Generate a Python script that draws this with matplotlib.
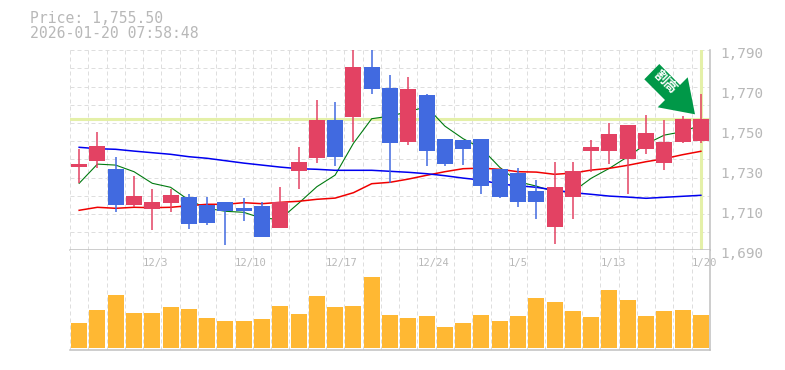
import numpy as np
import matplotlib
matplotlib.use("Agg")
import matplotlib.pyplot as plt
from matplotlib.patches import Polygon

# --- candle data ---
opens = [1731.6, 1734.6, 1730.6, 1712.6, 1710.6, 1713.6, 1716.6, 1712.6, 1714.1, 1711.1, 1712.1, 1701.1,
         1729.6, 1736.1, 1755.1, 1756.6, 1781.6, 1771.1, 1744.1, 1767.6, 1745.6, 1745.1, 1745.6, 1730.6,
         1728.6, 1719.6, 1701.6, 1716.6, 1739.6, 1739.6, 1735.6, 1740.6, 1733.6, 1744.1, 1744.6]
closes = [1733.1, 1742.1, 1712.6, 1717.1, 1714.1, 1717.6, 1703.1, 1703.6, 1709.6, 1709.6, 1696.6, 1714.1,
          1734.1, 1755.1, 1736.6, 1781.6, 1770.6, 1743.6, 1770.6, 1739.6, 1733.1, 1740.6, 1722.1, 1716.6,
          1714.1, 1714.1, 1721.6, 1729.6, 1741.6, 1748.1, 1752.6, 1748.6, 1744.1, 1755.6, 1755.6]
highs = [1740.6, 1749.1, 1736.6, 1727.1, 1720.6, 1720.6, 1718.1, 1716.6, 1714.1, 1716.1, 1714.1, 1721.6,
         1741.6, 1765.1, 1764.1, 1790.0, 1790.0, 1777.6, 1776.6, 1768.1, 1745.6, 1745.1, 1745.6, 1730.6,
         1731.1, 1725.1, 1734.1, 1734.1, 1745.1, 1753.6, 1752.6, 1757.6, 1755.1, 1757.3, 1768.1]
lows = [1723.8, 1731.1, 1709.1, 1711.6, 1700.1, 1709.1, 1700.6, 1702.6, 1692.6, 1704.6, 1696.6, 1701.1,
        1720.6, 1733.6, 1732.1, 1744.1, 1768.1, 1723.6, 1742.6, 1732.1, 1732.1, 1732.6, 1718.1, 1716.1,
        1711.6, 1705.6, 1693.1, 1705.6, 1729.1, 1733.1, 1718.1, 1738.1, 1730.1, 1743.6, 1743.6]

ma_blue = [1741.5, 1740.8, 1740.5, 1739.6, 1738.8, 1738.0, 1736.8, 1736.0, 1734.8, 1733.6, 1732.6, 1731.6,
           1730.8, 1730.5, 1730.0, 1730.0, 1730.0, 1729.5, 1729.0, 1728.3, 1727.3, 1726.1, 1725.1, 1723.1,
           1722.3, 1721.5, 1720.1, 1718.8, 1718.0, 1717.1, 1716.6, 1716.0, 1716.5, 1717.0, 1717.5]
ma_red = [1710.0, 1711.5, 1711.0, 1711.5, 1711.3, 1711.5, 1712.3, 1713.0, 1713.0, 1713.8, 1713.3, 1714.0,
          1714.5, 1715.5, 1716.1, 1718.8, 1723.3, 1724.0, 1725.6, 1727.5, 1729.3, 1730.8, 1731.1, 1730.5,
          1729.3, 1729.1, 1728.0, 1728.6, 1730.1, 1731.0, 1732.5, 1734.3, 1735.8, 1737.8, 1739.5]
ma_green = [1723.5, 1733.1, 1732.6, 1729.3, 1723.5, 1721.5, 1715.1, 1711.0, 1709.5, 1709.0, 1706.0, 1705.6,
            1713.5, 1721.8, 1727.6, 1743.5, 1755.8, 1757.1, 1759.3, 1761.8, 1752.1, 1745.8, 1741.0, 1731.5,
            1724.3, 1722.1, 1719.3, 1719.3, 1726.0, 1731.0, 1736.8, 1743.1, 1747.6, 1749.3, 1752.6]

volumes = [25, 38, 53, 35, 35, 41, 39, 30, 27, 27, 29, 42, 34, 52, 41, 42, 71, 33,
           30, 32, 21, 25, 33, 27, 32, 50, 46, 37, 31, 58, 48, 32, 37, 38, 33]

date_idx = [4, 9, 14, 19, 24, 29, 34]
date_labels = ["12/3", "12/10", "12/17", "12/24", "1/5", "1/13", "1/20"]
price_ticks = [1690, 1710, 1730, 1750, 1770, 1790]
price_labels = ["1,690", "1,710", "1,730", "1,750", "1,770", "1,790"]

current_price = 1755.5
title_lines = "Price: 1,755.50\n2026-01-20 07:58:48"
badge_text = "割高"

# --- style ---
W, H = 785, 370
GREY = "#b8b8b8"
GRID = "#dedede"
UP = "#e34263"
DOWN = "#416ae0"
NOW = "#e4f0a8"
VOL = "#ffb833"
MONO = "DejaVu Sans Mono"

fig = plt.figure(figsize=(W / 100, H / 100), dpi=100, facecolor="white")
ax = fig.add_axes([70 / W, 1 - 250.3 / H, 640 / W, 200 / H])
vax = fig.add_axes([70 / W, 1 - 350 / H, 640 / W, 99.7 / H], sharex=ax)

x = np.arange(len(opens))
ax.set_xlim(-0.5, len(opens) - 0.5)
ax.set_ylim(1690, 1790)
vax.set_ylim(-2, 97.7)

for a in (ax, vax):
    a.set_xticks(np.arange(len(opens) + 1) - 0.5)
    a.tick_params(length=0, labelbottom=False, labelleft=False)
    a.grid(True, axis="x", color=GRID, ls=(0, (4, 3)), lw=0.72)
    a.set_axisbelow(True)
    for s in a.spines.values():
        s.set_visible(False)
    a.spines["bottom"].set_visible(True)
    a.spines["right"].set_visible(True)
    a.spines["bottom"].set_color("#c0c0c0")
    a.spines["right"].set_color("#c0c0c0")
    a.spines["bottom"].set_linewidth(1.1)
    a.spines["right"].set_linewidth(1.1)

ax.set_yticks(np.linspace(1690, 1790, 12))
ax.grid(True, axis="y", color=GRID, ls=(0, (4, 3)), lw=0.72)

# current price cross
ax.axhline(current_price, color=NOW, lw=2.2, zorder=1.5)
ax.axvline(x[-1], ymin=0.005, color=NOW, lw=2.2, zorder=1.5)

# candles
for i in x:
    c = UP if closes[i] >= opens[i] else DOWN
    ax.vlines(i, lows[i], highs[i], color=c, lw=1.1, zorder=3)
    ax.bar(i, abs(closes[i] - opens[i]), bottom=min(opens[i], closes[i]), width=0.875, color=c, zorder=3)

# moving averages sit under the candles except where the gaps show them
ax.plot(x, ma_green, color="#007a10", lw=0.8, zorder=2)
ax.plot(x, ma_red, color="#f00000", lw=1.1, zorder=2)
ax.plot(x, ma_blue, color="#0000f0", lw=1.1, zorder=2)

# volume
vax.bar(x, volumes, width=0.875, color=VOL, zorder=3)

for i, lab in zip(date_idx, date_labels):
    vax.annotate(lab, (i - 0.5, 1), xycoords=("data", "axes fraction"), xytext=(0, -9), textcoords="offset points",
                 ha="left", va="center", family=MONO, fontsize=7.6, color=GREY, zorder=4)

for p, lab in zip(price_ticks, price_labels):
    ax.annotate(lab, (1, p), xycoords=("axes fraction", "data"), xytext=(7.2, -2.6), textcoords="offset points",
                ha="left", va="center", family=MONO, fontsize=10.4, color=GREY, annotation_clip=False)

fig.text(30 / W, 1 - 11 / H, title_lines, family=MONO, fontsize=10.6, color=GREY, va="top", ha="left", linespacing=1.0)

# signal arrow, pixel outline measured from the top left of the figure
arrow_px = [(659.3, 64), (644.3, 79.3), (665, 100), (657.7, 107.3), (695, 114.3), (687.7, 77.3), (680, 85)]
arrow_pts = [(px / W, 1 - py / H) for px, py in arrow_px]
fig.add_artist(Polygon(arrow_pts, closed=True, transform=fig.transFigure, facecolor="#009848", edgecolor="none", zorder=5))
fig.text(666 / W, 1 - 82 / H, badge_text, family=["Noto Sans CJK JP", "DejaVu Sans"], fontsize=9.6, weight="bold",
         color="white", rotation=-45, rotation_mode="anchor", ha="center", va="center", zorder=6)

fig.savefig("out.png", dpi=100)
